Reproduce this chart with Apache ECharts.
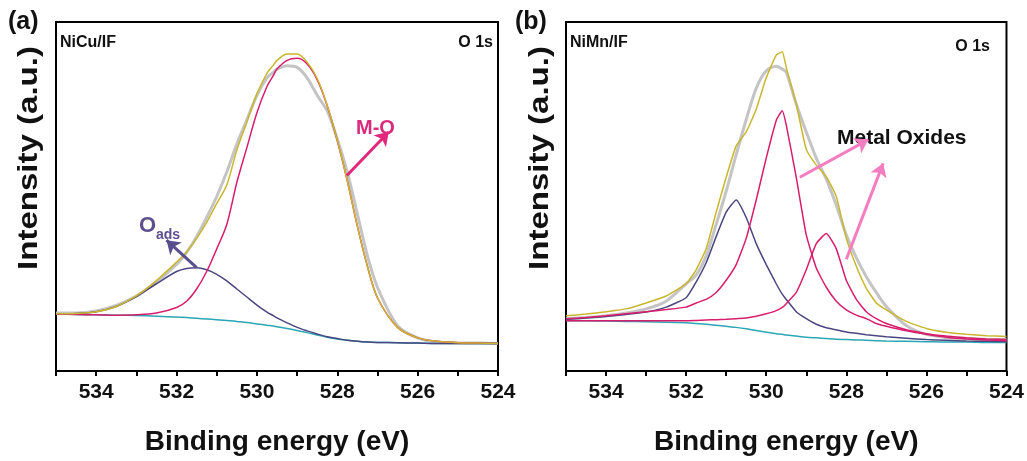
<!DOCTYPE html>
<html>
<head>
<meta charset="utf-8">
<script src="https://cdn.jsdelivr.net/npm/echarts@6/dist/echarts.min.js"></script>
<style>
  html, body { margin: 0; padding: 0; background: #fff; }
  #main { width: 1027px; height: 461px; }
</style>
</head>
<body>
<div id="main"></div>
<script>
// binding energy (eV), shared by both panels
var energy = [535, 534.5, 534, 533.5, 533, 532.5, 532, 531.75, 531.5, 531.25, 531, 530.75, 530.5, 530.25, 530,
  529.75, 529.6, 529.5, 529.25, 529, 528.75, 528.5, 528.25, 528, 527.75, 527.5, 527.25, 527, 526.5, 526, 525.5, 525, 524.5, 524];
var xTicks = [534, 532, 530, 528, 526, 524];

// (a) NiCu/IF
var aRaw = [16.6, 16.6, 17.2, 18.8, 21.5, 25.5, 30.5, 34, 38.5, 44, 50, 57, 65, 72, 79,
  84, 85.5, 86.5, 87.5, 87, 84, 79, 74.5, 66.5, 57, 45, 33, 24, 13, 9.5, 8.3, 8.1, 8.0, 7.9];
var aFit = [16.4, 16.5, 17.0, 18.5, 21.5, 25.9, 31.2, 34.1, 38, 42.6, 48, 53.3, 63.3, 71.3, 79.4,
  85.3, 87.5, 89, 90.8, 90.8, 88.5, 83.8, 76.1, 66.1, 54.5, 41.5, 30, 21, 12.5, 9.5, 8.5, 8.1, 8.0, 7.9];
var aMO = [16.3, 16.2, 16.1, 16.0, 16.1, 16.6, 18.2, 20, 23.5, 28.5, 35, 42, 54, 64, 74,
  81.5, 84.5, 86.5, 89, 89.6, 88, 83.5, 76, 66, 54.5, 41.5, 30, 21, 12.5, 9.5, 8.5, 8.1, 8.0, 7.9];
var aOads = [16.4, 16.5, 17.0, 18.5, 21.3, 25.0, 28.5, 29.4, 29.6, 29.0, 27.7, 25.8, 23.5, 21.2, 18.9,
  16.9, 15.9, 15.2, 13.8, 12.5, 11.5, 10.6, 9.8, 9.3, 8.8, 8.5, 8.3, 8.2, 8.1, 8.0, 7.9, 7.9, 7.9, 7.9];
var aBg = [16.3, 16.2, 16.1, 16.0, 15.9, 15.7, 15.5, 15.3, 15.1, 14.9, 14.7, 14.5, 14.2, 13.9, 13.5,
  13.1, 12.9, 12.7, 12.2, 11.6, 11.0, 10.3, 9.7, 9.2, 8.8, 8.5, 8.3, 8.2, 8.1, 8.0, 7.9, 7.9, 7.9, 7.9];

// (b) NiMn/IF
var bRaw = [15.0, 15.3, 15.8, 16.6, 17.8, 20, 25, 27.5, 33, 42, 51.5, 62, 72, 81, 86,
  87.3, 86.5, 85.6, 76.5, 68.5, 61, 55, 47.5, 39, 32.5, 27, 22.5, 18.5, 13, 10.5, 9.6, 9.3, 9.1, 9.0];
var bFit = [15.8, 16.3, 17, 17.8, 19.5, 21.5, 25, 29, 35, 45.5, 55.5, 64.5, 68.5, 75, 84,
  90.5, 91.5, 87, 76.5, 63.5, 59, 55.7, 50, 38, 30, 23.7, 19.5, 17.5, 14.2, 12.2, 11.1, 10.5, 10.1, 9.9];
var bOx1 = [15.0, 15.3, 15.8, 16.4, 17.0, 17.6, 18.3, 19.5, 20.5, 22.5, 26, 30.5, 38, 49, 61,
  71.8, 74.6, 70.5, 55.5, 39, 29.5, 24, 20, 17.5, 16, 15, 13.6, 12.8, 11.5, 10.5, 9.7, 9.2, 8.9, 8.7];
var bOx2 = [14.4, 14.4, 14.4, 14.4, 14.4, 14.4, 14.4, 14.5, 14.6, 14.7, 14.8, 15.0, 15.2, 15.7, 16.4,
  17.3, 18.2, 19.3, 22.5, 29, 36.5, 39.4, 35, 26, 20.5, 17, 15, 13.6, 11.8, 10.7, 10, 9.5, 9.2, 9.0];
var bOads = [14.8, 15.2, 15.6, 16.2, 16.9, 18.3, 21, 25.5, 31, 38.5, 45.5, 49, 44, 36.5, 30.5,
  25, 22, 20.5, 17, 15, 13.4, 12.4, 11.8, 11.2, 10.8, 10.4, 10.1, 9.8, 9.4, 9.0, 8.8, 8.6, 8.5, 8.4];
var bBg = [14.4, 14.4, 14.3, 14.2, 14.1, 14.0, 13.8, 13.6, 13.4, 13.1, 12.8, 12.5, 12.1, 11.6, 11.1,
  10.7, 10.5, 10.3, 10.0, 9.7, 9.5, 9.3, 9.1, 9.0, 8.9, 8.8, 8.7, 8.6, 8.5, 8.4, 8.3, 8.3, 8.2, 8.2];

var FONT = '"Liberation Sans", Arial, sans-serif';
var cGray = '#c4c4c4', cFit = '#c9b62e', cMag = '#d81d6c', cPur = '#4b4680', cTeal = '#2aa6b4';
var cArrowPink = '#f47cc0';

function pairs(vals) {
  return energy.map(function (e, i) { return [e, vals[i]]; });
}

function line(idx, vals, color, width, smooth, extra) {
  var s = {
    type: 'line',
    xAxisIndex: idx,
    yAxisIndex: idx,
    data: pairs(vals),
    showSymbol: false,
    smooth: smooth,
    lineStyle: { color: color, width: width },
    itemStyle: { color: color },
    silent: true
  };
  if (extra) { s.markLine = extra; }
  return s;
}

function arrow(from, to, color) {
  return {
    silent: true,
    symbol: ['none', 'arrow'],
    symbolSize: 13,
    label: { show: false },
    lineStyle: { color: color, width: 3, type: 'solid' },
    data: [[{ coord: from }, { coord: to }]]
  };
}

function xAxis(idx) {
  return {
    gridIndex: idx,
    type: 'value',
    inverse: true,
    min: 524,
    max: 535,
    interval: 2,
    axisLine: { lineStyle: { color: '#000', width: 2 } },
    axisTick: { length: 5, lineStyle: { color: '#000', width: 2 } },
    minorTick: { show: true, splitNumber: 2, length: 5, lineStyle: { color: '#000', width: 2 } },
    splitLine: { show: false },
    axisLabel: {
      margin: 11, color: '#111', fontSize: 21, fontWeight: 'bold', fontFamily: FONT,
      formatter: function (v) { return xTicks.indexOf(v) >= 0 ? String(v) : ''; }
    },
    name: 'Binding energy (eV)',
    nameLocation: 'middle',
    nameGap: 57,
    nameTextStyle: { color: '#111', fontSize: 28, fontWeight: 'bold', fontFamily: FONT }
  };
}

function yAxis(idx) {
  return {
    gridIndex: idx,
    type: 'value',
    min: 0,
    max: 100,
    axisLine: { show: true, lineStyle: { color: '#000', width: 2 } },
    axisTick: { show: false },
    axisLabel: { show: false },
    splitLine: { show: false }
  };
}

function txt(x, y, s, size, color, align) {
  return {
    type: 'text', x: x, y: y,
    style: { text: s, fill: color || '#111', font: 'bold ' + size + 'px ' + FONT, align: align || 'left', verticalAlign: 'middle' }
  };
}

function yName(x) {
  return {
    type: 'text', x: x, y: 158, rotation: Math.PI / 2, scaleX: 1.18,
    style: { text: 'Intensity (a.u.)', fill: '#111', font: 'bold 28px ' + FONT, align: 'center', verticalAlign: 'middle' }
  };
}

var chart = echarts.init(document.getElementById('main'));
chart.setOption({
  animation: false,
  backgroundColor: '#fff',
  grid: [
    { left: 56, top: 22, width: 442, height: 355, show: true, borderColor: '#000', borderWidth: 2 },
    { left: 566, top: 22, width: 441, height: 355, show: true, borderColor: '#000', borderWidth: 2 }
  ],
  xAxis: [xAxis(0), xAxis(1)],
  yAxis: [yAxis(0), yAxis(1)],
  series: [
    line(0, aRaw, cGray, 3, 0.3),
    line(0, aBg, cTeal, 1.5, 0.3),
    line(0, aOads, cPur, 1.5, 0.3, arrow([531.5, 29.6], [532.25, 37.5], '#5a4f8e')),
    line(0, aMO, cMag, 1.5, 0.3, arrow([527.76, 56], [526.72, 68.5], '#e0287c')),
    line(0, aFit, cFit, 1.5, 0.3),

    line(1, bRaw, cGray, 3, 0.3),
    line(1, bBg, cTeal, 1.5, 0.3),
    line(1, bOads, cPur, 1.5, 0.15),
    line(1, bOx1, cMag, 1.5, 0.15, arrow([529.16, 55.5], [527.45, 66.3], cArrowPink)),
    line(1, bOx2, cMag, 1.5, 0.15, arrow([528.0, 32], [527.08, 59.5], cArrowPink)),
    line(1, bFit, cFit, 1.5, 0.15)
  ],
  graphic: [
    txt(8, 22, '(a)', 25),
    txt(60, 43, 'NiCu/IF', 16),
    txt(493, 43, 'O 1s', 16, '#111', 'right'),
    txt(515, 22, '(b)', 25),
    txt(570, 43, 'NiMn/IF', 16),
    txt(990, 47, 'O 1s', 16, '#111', 'right'),
    txt(356, 128, 'M-O', 20, '#d92b7d'),
    txt(139, 226, 'O', 22, '#5d4f8f'),
    txt(156, 235, 'ads', 14, '#5d4f8f'),
    txt(837, 138, 'Metal Oxides', 21),
    yName(29),
    yName(540)
  ]
});
</script>
</body>
</html>
